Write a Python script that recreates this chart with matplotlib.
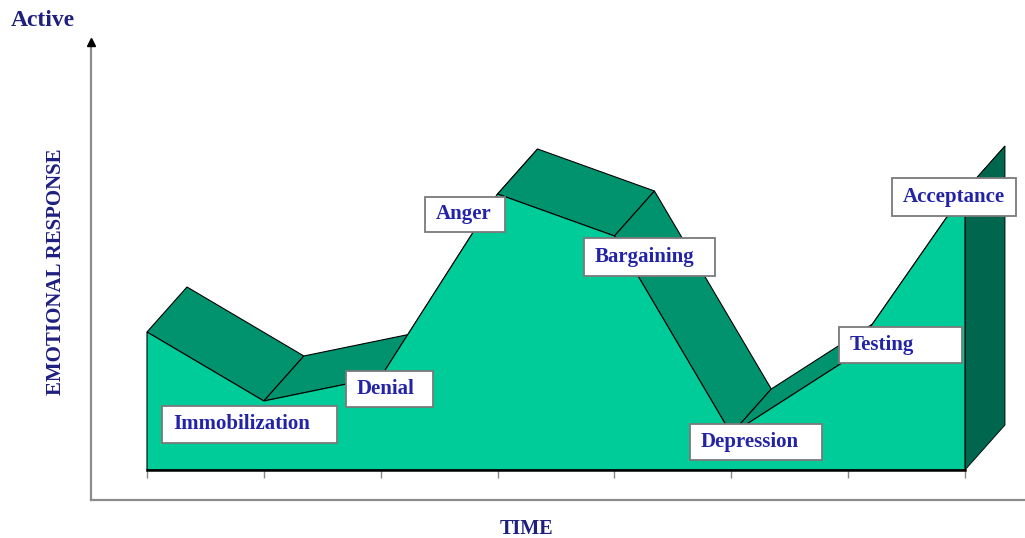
import numpy as np
import matplotlib.pyplot as plt
from matplotlib.patches import Polygon, Rectangle

# data: emotional response at each point in time (index 0 = starting state)
time_idx = np.arange(8)
response = [46, 23, 31, 92, 78, 12, 37, 93]
stage_names = ['Immobilization', 'Denial', 'Anger', 'Bargaining',
               'Depression', 'Testing', 'Acceptance']

# layout for the label boxes (centre x, centre y, width px, height px)
label_layout = [(0.877, 15.2, 175, 37), (2.075, 27.0, 87, 36),
                (2.721, 85.2, 80, 35), (4.30, 71.0, 131, 38),
                (5.21, 9.3, 132, 36), (6.448, 41.7, 123, 36),
                (6.906, 91.0, 124, 38)]

PX_X = 116.857   # pixels per time step
PX_Y = 3.0       # pixels per response unit
DX, DY = 40 / PX_X, 45 / PX_Y   # depth offset of the 3d ribbon

front_col = '#00CC99'
top_col = '#00936E'
side_col = '#00664D'
navy = '#1f1f80'
label_col = '#2323a8'

fig = plt.figure(figsize=(10.25, 5.38), dpi=100)
ax = fig.add_axes([0, 0, 1, 1])
ax.set_xlim(-147 / PX_X, (1025 - 147) / PX_X)
ax.set_ylim(-68 / PX_Y, 470 / PX_Y)
ax.axis('off')

x = time_idx
y = np.array(response, dtype=float)

# top faces (drawn first, front face covers the hidden parts)
for i in range(len(x) - 1):
    pts = [(x[i], y[i]), (x[i + 1], y[i + 1]),
           (x[i + 1] + DX, y[i + 1] + DY), (x[i] + DX, y[i] + DY)]
    ax.add_patch(Polygon(pts, closed=True, facecolor=top_col,
                         edgecolor='black', lw=0.8, zorder=2))

# right side face
side = [(x[-1], 0), (x[-1], y[-1]), (x[-1] + DX, y[-1] + DY), (x[-1] + DX, DY)]
ax.add_patch(Polygon(side, closed=True, facecolor=side_col,
                     edgecolor='black', lw=0.6, zorder=2))

# front face
front = [(x[0], 0)] + list(zip(x, y)) + [(x[-1], 0)]
ax.add_patch(Polygon(front, closed=True, facecolor=front_col,
                     edgecolor='black', lw=0.8, zorder=3))
ax.plot([x[0], x[-1]], [0, 0], color='black', lw=1.8, zorder=4)

# tick marks under the baseline
ax.vlines(x, -8 / PX_Y, 0, color='#888888', lw=1, zorder=1)

# outer axes (gray L with arrow)
ax_x = (91 - 147) / PX_X
ax_y = (470 - 500) / PX_Y
ax.plot([ax_x, ax_x], [ax_y, 143], color='#8c8c8c', lw=1.6, zorder=1)
ax.plot([ax_x, (1025 - 147) / PX_X], [ax_y, ax_y], color='#8c8c8c', lw=1.6, zorder=1)
ax.plot(ax_x, 142.5, marker='^', color='black', ms=6, zorder=2)

# stage labels in boxes (text left aligned with a small padding)
for name, (cx, cy, w, h) in zip(stage_names, label_layout):
    wd, hd = w / PX_X, h / PX_Y
    ax.add_patch(Rectangle((cx - wd / 2, cy - hd / 2), wd, hd, facecolor='white',
                           edgecolor='#7a7a7a', lw=1.3, zorder=5))
    ax.text(cx - wd / 2 + 11 / PX_X, cy, name, ha='left', va='center', fontsize=15,
            fontweight='bold', family='Liberation Serif', color=label_col, zorder=6)

fig.text(43 / 1025, 1 - 20 / 538, 'Active', ha='center', va='center', fontsize=17,
         fontweight='bold', family='Liberation Serif', color=navy)
fig.text(56 / 1025, 1 - 272 / 538, 'EMOTIONAL RESPONSE', ha='center', va='center',
         rotation=90, fontsize=15, fontweight='bold', family='Liberation Serif', color=navy)
fig.text(526 / 1025, 1 - 529 / 538, 'TIME', ha='center', va='center', fontsize=14.5,
         fontweight='bold', family='Liberation Serif', color=navy)

plt.savefig('out.png', dpi=100)
